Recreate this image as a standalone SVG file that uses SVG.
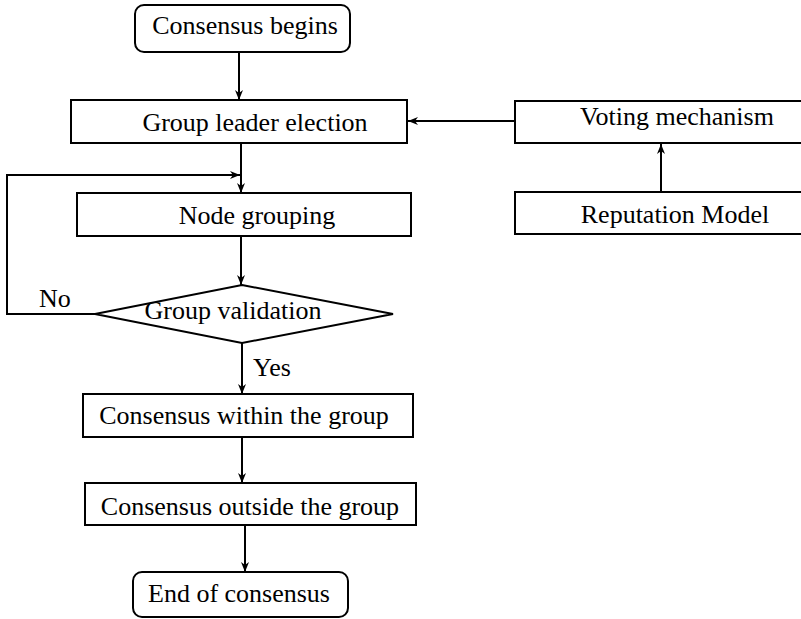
<svg xmlns="http://www.w3.org/2000/svg" width="801" height="619" viewBox="0 0 801 619">
<style>
.box{fill:#fff;stroke:#000;stroke-width:2}
.ln{fill:none;stroke:#000;stroke-width:2}
text{font-family:"Liberation Serif","Times New Roman",serif;font-size:26px;fill:#000;text-anchor:middle}
.lbl{text-anchor:start}
</style>
<defs>
<marker id="ah" viewBox="0 0 10 10" refX="10" refY="5" markerWidth="10" markerHeight="10" markerUnits="userSpaceOnUse" orient="auto">
<path d="M0,1 L10,5 L0,9 L3,5 Z" fill="#000"/>
</marker>
</defs>
<rect width="801" height="619" fill="#fff"/>
<g id="connectors">
<line class="ln" x1="239" y1="52" x2="239" y2="100" marker-end="url(#ah)"/>
<line class="ln" x1="515" y1="121" x2="408" y2="121" marker-end="url(#ah)"/>
<line class="ln" x1="661" y1="192" x2="661" y2="144" marker-end="url(#ah)"/>
<line class="ln" x1="241" y1="143" x2="241" y2="193" marker-end="url(#ah)"/>
<polyline class="ln" points="95,314 7,314 7,175 240,175" marker-end="url(#ah)"/>
<line class="ln" x1="241" y1="236" x2="241" y2="285" marker-end="url(#ah)"/>
<line class="ln" x1="242" y1="343" x2="242" y2="394" marker-end="url(#ah)"/>
<line class="ln" x1="242" y1="437" x2="242" y2="483" marker-end="url(#ah)"/>
<line class="ln" x1="245" y1="525" x2="245" y2="572" marker-end="url(#ah)"/>
<text class="lbl" x="39" y="307">No</text>
<text class="lbl" x="253" y="376">Yes</text>
</g>
<g id="n-begin">
<rect class="box" x="135" y="5" width="215" height="47" rx="9"/>
<text x="245" y="34">Consensus begins</text>
</g>
<g id="n-leader">
<rect class="box" x="71" y="100" width="336" height="43"/>
<text x="255" y="131">Group leader election</text>
</g>
<g id="n-voting">
<rect class="box" x="515" y="101" width="300" height="42"/>
<text x="677" y="125">Voting mechanism</text>
</g>
<g id="n-reputation">
<rect class="box" x="515" y="192" width="300" height="42"/>
<text x="675" y="223">Reputation Model</text>
</g>
<g id="n-grouping">
<rect class="box" x="77" y="193" width="334" height="43"/>
<text x="257" y="224">Node grouping</text>
</g>
<g id="n-validation">
<polygon class="box" points="242,285 393,314 242,343 95,314"/>
<text x="233" y="319">Group validation</text>
</g>
<g id="n-within">
<rect class="box" x="83" y="394" width="330" height="43"/>
<text x="244" y="424">Consensus within the group</text>
</g>
<g id="n-outside">
<rect class="box" x="85" y="483" width="331" height="42"/>
<text x="250" y="515">Consensus outside the group</text>
</g>
<g id="n-end">
<rect class="box" x="133" y="572" width="215" height="45" rx="9"/>
<text x="239" y="602">End of consensus</text>
</g>
</svg>
